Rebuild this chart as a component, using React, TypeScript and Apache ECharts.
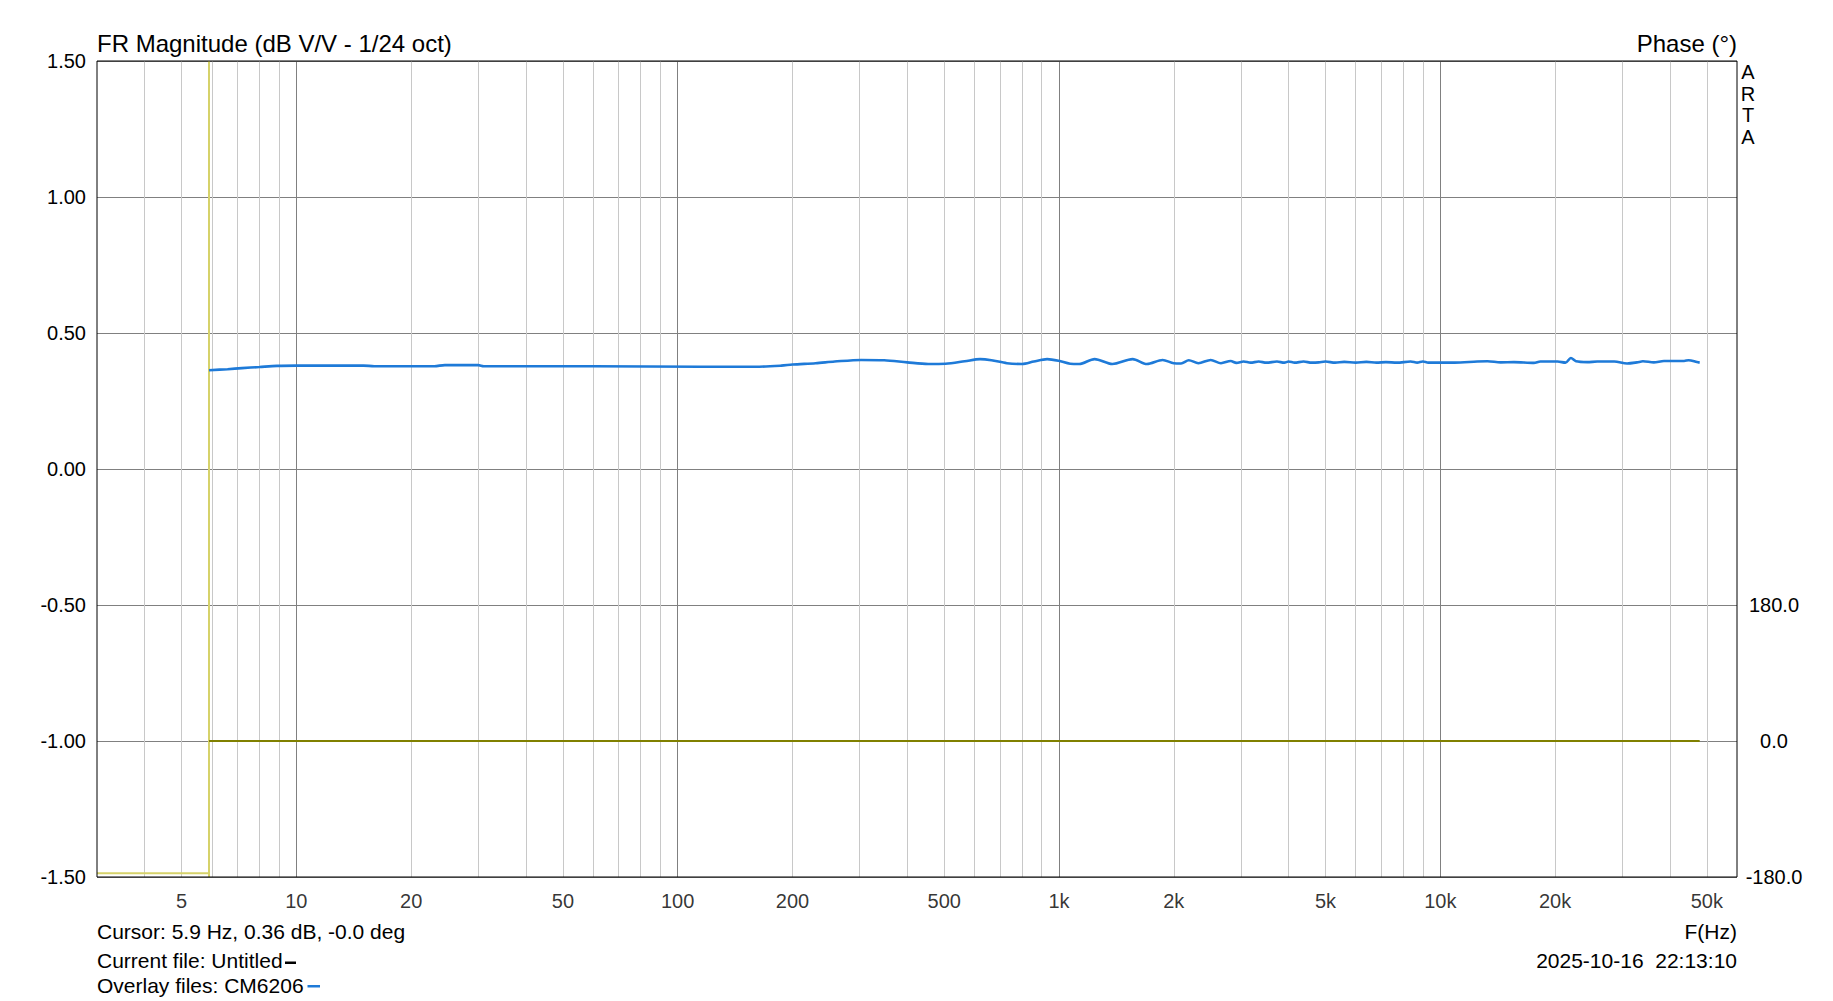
import React, { useEffect, useRef } from "react";
import * as echarts from "echarts";

// ---- data ----
const magFreqHz = [
  5.9, 6.6, 7.2, 8.0, 8.9, 10, 15, 16, 23, 24.5, 30, 31, 60, 115, 160, 187, 200, 230, 258, 303,
  348, 400, 454, 504, 566, 621, 665, 730, 800, 859, 931, 998, 1070, 1130, 1240, 1380, 1560, 1700,
  1870, 2000, 2090, 2190, 2320, 2500, 2660, 2820, 2920, 3050, 3180, 3340, 3500, 3730, 3900, 4000,
  4150, 4380, 4600, 4800, 5000, 5300, 5600, 6000, 6400, 6800, 7200, 7700, 8360, 8700, 9000, 9300,
  10900, 12500, 13300, 14400, 15600, 17600, 18300, 20300, 21300, 22000, 22700, 24300, 25800,
  28600, 30900, 32800, 34000, 36300, 38600, 43600, 44800, 47100, 47900,
];
const magDb = [
  0.363, 0.367, 0.371, 0.375, 0.379, 0.38, 0.38, 0.378, 0.378, 0.382, 0.382, 0.378, 0.378, 0.376,
  0.376, 0.38, 0.384, 0.389, 0.395, 0.401, 0.4, 0.392, 0.386, 0.387, 0.396, 0.404, 0.4, 0.389,
  0.386, 0.395, 0.404, 0.398, 0.387, 0.386, 0.404, 0.386, 0.404, 0.386, 0.401, 0.389, 0.388, 0.4,
  0.389, 0.401, 0.389, 0.397, 0.39, 0.395, 0.391, 0.395, 0.391, 0.395, 0.391, 0.395, 0.391, 0.395,
  0.391, 0.392, 0.395, 0.391, 0.394, 0.391, 0.394, 0.391, 0.393, 0.391, 0.395, 0.391, 0.395,
  0.391, 0.391, 0.395, 0.396, 0.392, 0.393, 0.39, 0.395, 0.395, 0.391, 0.408, 0.396, 0.393,
  0.395, 0.395, 0.388, 0.392, 0.396, 0.392, 0.397, 0.397, 0.4, 0.393, 0.391,
];
const phaseFreqHz = [5.9, 47900];
const phaseDeg = [0, 0];
const cursorHz = 5.9;
const cursorSpanDeg = [-180, 900];
const lowPhaseFreqHz = [3, 5.9];
const lowPhaseDeg = [-175, -175];

const xTickHz = [5, 10, 20, 50, 100, 200, 500, 1000, 2000, 5000, 10000, 20000, 50000];
const xTickLabels = ["5", "10", "20", "50", "100", "200", "500", "1k", "2k", "5k", "10k", "20k", "50k"];
const decadeGridHz = [10, 100, 1000, 10000];
const minorGridHz = [
  4, 5, 6, 7, 8, 9, 20, 30, 40, 50, 60, 70, 80, 90, 200, 300, 400, 500, 600, 700, 800, 900,
  2000, 3000, 4000, 5000, 6000, 7000, 8000, 9000, 20000, 30000, 40000, 50000,
];

const FONT = "'Liberation Sans', Arial, Helvetica, sans-serif";

export default function App() {
  const ref = useRef<HTMLDivElement>(null);

  useEffect(() => {
    document.body.style.margin = "0";
    const chart = echarts.init(ref.current!, null, { renderer: "svg" });

    const magData = magFreqHz.map((f, i) => [f, magDb[i]]);
    const phaseData = phaseFreqHz.map((f, i) => [f, phaseDeg[i]]);
    const cursorData = cursorSpanDeg.map((d) => [cursorHz, d]);
    const lowPhaseData = lowPhaseFreqHz.map((f, i) => [f, lowPhaseDeg[i]]);
    const tickData = xTickHz.map((f) => [f, -1.5]);

    const txt = (text: string, x: number, y: number, size: number, align = "left", fill = "#000") => ({
      type: "text",
      x,
      y,
      silent: true,
      style: {
        text,
        fill,
        fontSize: size,
        fontFamily: FONT,
        align,
        textAlign: align,
        verticalAlign: "middle",
        textVerticalAlign: "middle",
      },
    });

    chart.setOption({
      animation: false,
      backgroundColor: "#ffffff",
      grid: {
        left: 97,
        top: 61,
        width: 1640,
        height: 816,
        show: true,
        borderColor: "#000000",
        borderWidth: 1,
        backgroundColor: "transparent",
        z: 10,
      },
      xAxis: {
        type: "log",
        logBase: 10,
        min: 3,
        max: 60000,
        axisLine: { show: false },
        axisTick: { show: false },
        axisLabel: { show: false },
        splitLine: { show: false },
      },
      yAxis: [
        {
          type: "value",
          min: -1.5,
          max: 1.5,
          interval: 0.5,
          axisLine: { show: false },
          axisTick: { show: false },
          axisLabel: {
            margin: 11,
            fontSize: 20,
            fontFamily: FONT,
            color: "#000",
            formatter: (v: number) => v.toFixed(2),
          },
          splitLine: { show: true, lineStyle: { color: "#808080", width: 1 } },
        },
        {
          type: "value",
          position: "right",
          min: -180,
          max: 900,
          interval: 180,
          axisLine: { show: false },
          axisTick: { show: false },
          axisLabel: {
            margin: 37,
            align: "center",
            fontSize: 20,
            fontFamily: FONT,
            color: "#000",
            formatter: (v: number) => (v <= 180 ? v.toFixed(1) : ""),
          },
          splitLine: { show: false },
        },
      ],
      series: [
        {
          name: "grid-minor",
          type: "line",
          data: [],
          silent: true,
          z: 1,
          markLine: {
            silent: true,
            z: 1,
            symbol: ["none", "none"],
            animation: false,
            label: { show: false },
            lineStyle: { color: "#c8c8c8", width: 1, type: "solid" },
            emphasis: { disabled: true },
            data: minorGridHz.map((f) => ({ xAxis: f })),
          },
        },
        {
          name: "grid-decade",
          type: "line",
          data: [],
          silent: true,
          z: 1,
          markLine: {
            silent: true,
            z: 1,
            symbol: ["none", "none"],
            animation: false,
            label: { show: false },
            lineStyle: { color: "#808080", width: 1, type: "solid" },
            emphasis: { disabled: true },
            data: decadeGridHz.map((f) => ({ xAxis: f })),
          },
        },
        {
          name: "Cursor",
          type: "line",
          yAxisIndex: 1,
          data: cursorData,
          showSymbol: false,
          silent: true,
          z: 3,
          lineStyle: { color: "#d6d26a", width: 2 },
        },
        {
          name: "Phase low",
          type: "line",
          yAxisIndex: 1,
          data: lowPhaseData,
          showSymbol: false,
          silent: true,
          z: 3,
          lineStyle: { color: "#d6d26a", width: 2 },
        },
        {
          name: "Phase",
          type: "line",
          yAxisIndex: 1,
          data: phaseData,
          showSymbol: false,
          silent: true,
          z: 4,
          lineStyle: { color: "#808000", width: 2 },
        },
        {
          name: "CM6206",
          type: "line",
          yAxisIndex: 0,
          data: magData,
          showSymbol: false,
          smooth: 0.3,
          silent: true,
          z: 5,
          lineStyle: { color: "#1e7ad8", width: 2.6 },
        },
        {
          name: "x-ticks",
          type: "scatter",
          data: tickData,
          symbolSize: 1,
          clip: false,
          silent: true,
          itemStyle: { color: "rgba(0,0,0,0)" },
          label: {
            show: true,
            position: "inside",
            offset: [0, 24],
            fontSize: 20,
            fontFamily: FONT,
            color: "#000",
            formatter: (p: any) => xTickLabels[p.dataIndex],
          },
          z: 6,
        },
      ],
      graphic: [
        txt("FR Magnitude (dB V/V - 1/24 oct)", 97, 43, 24),
        txt("Phase (°)", 1737, 43, 24, "right"),
        {
          type: "text",
          x: 1748,
          y: 61,
          silent: true,
          style: {
            text: "A\nR\nT\nA",
            fill: "#000",
            fontSize: 20,
            fontFamily: FONT,
            lineHeight: 21.7,
            align: "center",
            textAlign: "center",
            verticalAlign: "top",
            textVerticalAlign: "top",
          },
        },
        txt("Cursor: 5.9 Hz, 0.36 dB, -0.0 deg", 97, 931, 21),
        txt("Current file: Untitled", 97, 960, 21),
        txt("Overlay files: CM6206", 97, 985, 21),
        txt("F(Hz)", 1737, 931, 21, "right"),
        txt("2025-10-16  22:13:10", 1737, 960.5, 21, "right"),
        {
          type: "rect",
          silent: true,
          shape: { x: 285, y: 961.5, width: 11, height: 2.5 },
          style: { fill: "#000" },
        },
        {
          type: "rect",
          silent: true,
          shape: { x: 307.5, y: 985, width: 12.5, height: 2.5 },
          style: { fill: "#1e7ad8" },
        },
      ],
    });

    return () => chart.dispose();
  }, []);

  return (
    <div
      ref={ref}
      style={{ position: "fixed", left: 0, top: 0, width: 1833, height: 1001, background: "#fff" }}
    />
  );
}
